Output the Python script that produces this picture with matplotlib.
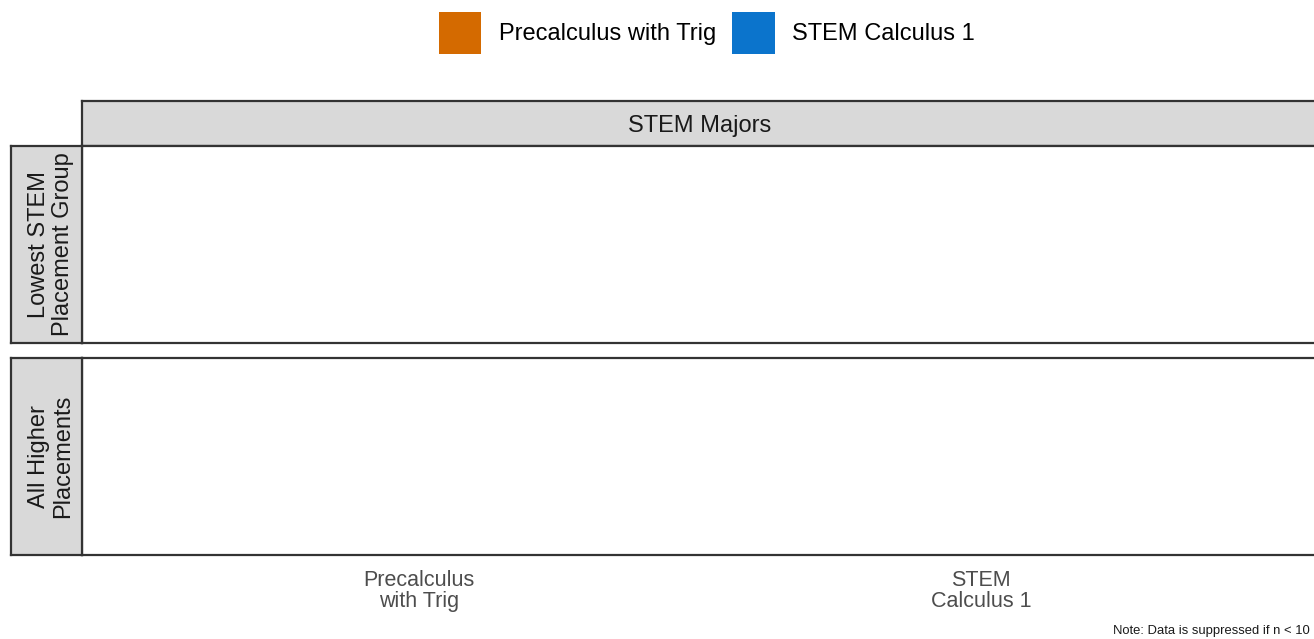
import numpy as np
import matplotlib
matplotlib.use('Agg')
import matplotlib.pyplot as plt
import matplotlib.patches as mpatches

plt.rcParams['font.family'] = ['Liberation Sans', 'DejaVu Sans']

# data (all cells suppressed, n < 10)
courses = ['Precalculus with Trig', 'STEM Calculus 1']
tick_labels = ['Precalculus\nwith Trig', 'STEM\nCalculus 1']
course_colors = ['#D46A00', '#0B74CC']
col_facets = ['STEM Majors']
row_facets = ['Lowest STEM\nPlacement Group', 'All Higher\nPlacements']
values = {r: [np.nan, np.nan] for r in row_facets}

W, H = 1314, 639
fig = plt.figure(figsize=(W / 100, H / 100), dpi=100)
fig.patch.set_facecolor('white')

def box(x0, y0, x1, y1):
    return [x0 / W, 1 - y1 / H, (x1 - x0) / W, (y1 - y0) / H]

EDGE = '#333333'
STRIP = '#D9D9D9'

def frame(ax, fc):
    ax.set_facecolor(fc)
    for sp in ax.spines.values():
        sp.set_color(EDGE); sp.set_linewidth(1.6)
    ax.set_xticks([]); ax.set_yticks([])

# column strip
sax = fig.add_axes(box(82, 101, 1318, 146))
frame(sax, STRIP)
sax.text(0.5, 0.44, col_facets[0], ha='center', va='center', fontsize=17, color='#1a1a1a',
         transform=sax.transAxes)

rows_px = [(146, 343), (358, 555)]
x = np.arange(1, len(courses) + 1)
for i, (r, (y0, y1)) in enumerate(zip(row_facets, rows_px)):
    ax = fig.add_axes(box(82, y0, 1318, y1))
    frame(ax, 'white')
    ax.bar(x, values[r], color=course_colors, width=0.8)
    ax.set_xlim(0.4, 2.6); ax.set_ylim(0, 1)
    if i == len(row_facets) - 1:
        ax.set_xticks(x)
        ax.set_xticklabels(tick_labels, fontsize=15.5, color='#4D4D4D', linespacing=1.0)
        ax.tick_params(axis='x', length=0, pad=11)
    rax = fig.add_axes(box(11, y0, 82, y1))
    frame(rax, STRIP)
    rax.text(0.56, 0.5, r, ha='center', va='center', rotation=90, fontsize=17,
             color='#1a1a1a', linespacing=1.12, transform=rax.transAxes)

handles = [mpatches.Patch(facecolor=c, edgecolor='none', label=l)
           for c, l in zip(course_colors, courses)]
fig.legend(handles=handles, loc='center', bbox_to_anchor=(707 / W, 1 - 33 / H), ncol=2,
           frameon=False, fontsize=17, handlelength=1.79, handleheight=2.36,
           handletextpad=0.76, columnspacing=0.68, borderpad=0)

fig.text(1310 / W, 1 - 631 / H, 'Note: Data is suppressed if n < 10', ha='right',
         va='center', fontsize=9.4, color='#1a1a1a')

fig.savefig('out.png', dpi=100)
